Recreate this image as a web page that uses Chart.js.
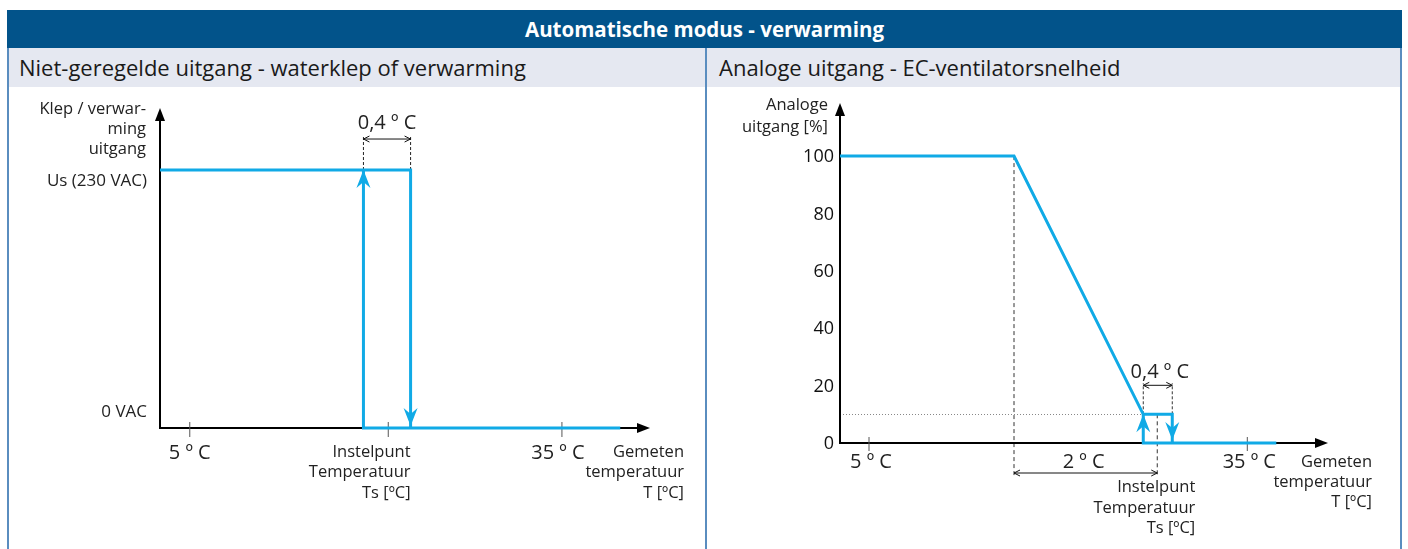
<!DOCTYPE html>
<html><head><meta charset="utf-8">
<script src="https://cdn.jsdelivr.net/npm/chart.js@4.4.0/dist/chart.umd.min.js"></script>
<style>
html,body{margin:0;padding:0}
body{width:1408px;height:549px;background:#fff;position:relative;overflow:hidden;font-family:"Open Sans",sans-serif}
#title{position:absolute;left:7px;top:10px;width:1395px;height:38px;background:#02538a;color:#fff;font-weight:bold;font-size:20.5px;line-height:38px;text-align:center}
.sub{position:absolute;top:48px;height:39px;background:#e5e8f1;color:#1a1a1a;font-size:22px;line-height:39px;padding-left:12px;box-sizing:border-box;white-space:nowrap}
.vline{position:absolute;top:48px;height:501px;width:2px;background:#5a8dbf}
canvas{position:absolute;top:87px}
</style></head>
<body>
<div id="title">Automatische modus - verwarming</div>
<div class="sub" style="left:7px;width:698px">Niet-geregelde uitgang - waterklep of verwarming</div>
<div class="sub" style="left:707px;width:695px">Analoge uitgang - EC-ventilatorsnelheid</div>
<div class="vline" style="left:7px"></div>
<div class="vline" style="left:705px"></div>
<div class="vline" style="left:1400px"></div>
<canvas id="left" width="696" height="462" style="left:9px"></canvas>
<canvas id="right" width="693" height="462" style="left:707px"></canvas>
<script>
// ---------- DATA (schematic temperatures in °C, outputs in V / %) ----------
// Left: on/off output with hysteresis
const leftOffX = [2.6, 22.8, 22.8];     // high output until switch-off
const leftOffY = [230, 230, 0];
const leftOnX  = [19.0, 19.0, 39.7];    // switch-on branch and low output
const leftOnY  = [230, 0, 0];
const leftTickTemps = [5, 21, 35];
const leftTickLabels = ["5 º C", "", "35 º C"];
const leftSetpoint = 21;
const leftUs = 230;

// Right: analogue output (EC fan speed)
const rightMainX = [2.7, 16.5, 26.75, 29.05, 29.05];
const rightMainY = [100, 100, 10, 10, 0];
const rightLowX  = [26.75, 26.75, 37.3];
const rightLowY  = [10, 0, 0];
const rightYTicks = [0, 20, 40, 60, 80, 100];
const rightTickTemps = [5, 35];
const rightTickLabels = ["5 º C", "35 º C"];
const rightKnee = 16.5;
const rightSetpoint = 27.86;
const rightMinLevel = 10;

const BLUE = '#10aae6';
const TXT = '#222';
const LBL = 16.5;

function pts(xs, ys){ return xs.map((x,i)=>({x:x, y:ys[i]})); }

function line(ctx,x1,y1,x2,y2,color,w,dash){
  ctx.save(); ctx.beginPath(); ctx.strokeStyle=color; ctx.lineWidth=w; ctx.setLineDash(dash||[]);
  ctx.moveTo(x1,y1); ctx.lineTo(x2,y2); ctx.stroke(); ctx.restore();
}
function filledArrow(ctx,x,y,dir,len,half,color){
  ctx.save(); ctx.fillStyle=color; ctx.beginPath();
  if(dir==='up'){ ctx.moveTo(x,y); ctx.lineTo(x-half,y+len); ctx.lineTo(x+half,y+len); }
  else { ctx.moveTo(x,y); ctx.lineTo(x-len,y-half); ctx.lineTo(x-len,y+half); }
  ctx.closePath(); ctx.fill(); ctx.restore();
}
function stealth(ctx,x,y,dir,color){
  const s = dir==='up' ? 1 : -1;
  ctx.save(); ctx.fillStyle=color; ctx.beginPath();
  ctx.moveTo(x,y); ctx.lineTo(x-7,y+s*18); ctx.lineTo(x,y+s*12); ctx.lineTo(x+7,y+s*18);
  ctx.closePath(); ctx.fill(); ctx.restore();
}
function dim(ctx,x1,x2,y){
  ctx.save(); ctx.strokeStyle='#111'; ctx.lineWidth=1; ctx.beginPath();
  ctx.moveTo(x1,y); ctx.lineTo(x2,y);
  ctx.moveTo(x1+6,y-3); ctx.lineTo(x1,y); ctx.lineTo(x1+6,y+3);
  ctx.moveTo(x2-6,y-3); ctx.lineTo(x2,y); ctx.lineTo(x2-6,y+3);
  ctx.stroke(); ctx.restore();
}
function text(ctx,s,x,y,align,size,color){
  ctx.save(); ctx.font = size+'px "Open Sans", sans-serif'; ctx.fillStyle=color||TXT;
  ctx.textAlign=align; ctx.textBaseline='middle'; ctx.fillText(s,x,y); ctx.restore();
}

const leftAnnot = {
  id:'leftAnnot',
  beforeDatasetsDraw(chart){
    const {ctx, chartArea:a, scales:{x,y}} = chart;
    const ay = y.getPixelForValue(0);
    line(ctx,a.left,ay,a.right-10,ay,'#000',2);
    filledArrow(ctx,a.right,ay,'right',13,5,'#000');
    line(ctx,a.left,ay+1,a.left,a.top+10,'#000',2);
    filledArrow(ctx,a.left,a.top,'up',13,5,'#000');
    leftTickTemps.forEach((t,i)=>{
      const px = x.getPixelForValue(t);
      line(ctx,px,ay-6,px,ay+9,'#555',1);
      if(leftTickLabels[i]) text(ctx,leftTickLabels[i],px+(t===35?-4:0),ay+25,'center',20,TXT);
    });
    const xOn = x.getPixelForValue(leftOnX[0]), xOff = x.getPixelForValue(leftOffX[1]);
    const yUs = y.getPixelForValue(leftUs);
    line(ctx,xOn,yUs,xOn,yUs-33,'#222',1,[3,2]);
    line(ctx,xOff,yUs,xOff,yUs-33,'#222',1,[3,2]);
    dim(ctx,xOn,xOff,yUs-31);
    text(ctx,'0,4 º C',(xOn+xOff)/2,yUs-47,'center',20,TXT);
    text(ctx,'Klep / verwar-',a.left-14,a.top+1,'right',LBL,TXT);
    text(ctx,'ming',a.left-14,a.top+21,'right',LBL,TXT);
    text(ctx,'uitgang',a.left-14,a.top+41,'right',LBL,TXT);
    text(ctx,'Us (230 VAC)',a.left-13,yUs+11,'right',17,TXT);
    text(ctx,'0 VAC',a.left-13,ay-16,'right',17,TXT);
    const xs = xOff;
    text(ctx,'Instelpunt',xs,ay+24,'right',LBL,TXT);
    text(ctx,'Temperatuur',xs,ay+44,'right',LBL,TXT);
    text(ctx,'Ts [ºC]',xs,ay+65,'right',LBL,TXT);
    text(ctx,'Gemeten',a.right+34,ay+24,'right',LBL,TXT);
    text(ctx,'temperatuur',a.right+34,ay+44,'right',LBL,TXT);
    text(ctx,'T [ºC]',a.right+34,ay+65,'right',LBL,TXT);
  },
  afterDatasetsDraw(chart){
    const {ctx, scales:{x,y}} = chart;
    stealth(ctx,x.getPixelForValue(leftOnX[0]),y.getPixelForValue(leftUs),'up',BLUE);
    stealth(ctx,x.getPixelForValue(leftOffX[1]),y.getPixelForValue(0)-2,'down',BLUE);
  }
};

const rightAnnot = {
  id:'rightAnnot',
  beforeDatasetsDraw(chart){
    const {ctx, chartArea:a, scales:{x,y}} = chart;
    const ay = y.getPixelForValue(0);
    const yMin = y.getPixelForValue(rightMinLevel);
    const xKnee = x.getPixelForValue(rightKnee), xSet = x.getPixelForValue(rightSetpoint);
    const xOn = x.getPixelForValue(rightLowX[0]), xOff = x.getPixelForValue(rightMainX[3]);
    ctx.save(); ctx.fillStyle='#888';
    for(let px=a.left+3; px<xOn; px+=3) ctx.fillRect(px,Math.round(yMin),1,1);
    ctx.restore();
    line(ctx,xKnee,y.getPixelForValue(100),xKnee,ay+34,'#333',1,[4,3]);
    line(ctx,xSet,yMin,xSet,ay+34,'#333',1,[4,3]);
    line(ctx,xOn,yMin,xOn,yMin-31,'#333',1,[3,2]);
    line(ctx,xOff,yMin,xOff,yMin-31,'#333',1,[3,2]);
    dim(ctx,xOn,xOff,yMin-29);
    text(ctx,'0,4 º C',(xOn+xOff)/2+2,yMin-42,'center',20,TXT);
    dim(ctx,xKnee,xSet,ay+30);
    text(ctx,'2 º C',(xKnee+xSet)/2-2,ay+19,'center',20,TXT);
    line(ctx,a.left,ay,a.right-10,ay,'#000',2);
    filledArrow(ctx,a.right,ay,'right',13,5,'#000');
    line(ctx,a.left,ay+1,a.left,a.top+10,'#000',2);
    filledArrow(ctx,a.left,a.top,'up',13,5,'#000');
    rightTickTemps.forEach((t,i)=>{
      const px = x.getPixelForValue(t);
      line(ctx,px,ay-6,px,ay+8,'#555',1);
      text(ctx,rightTickLabels[i],px+2,ay+19,'center',20,TXT);
    });
    rightYTicks.forEach(v=>text(ctx,String(v),a.left-6,y.getPixelForValue(v)+1,'right',18,'#111'));
    text(ctx,'Analoge',a.left-12,a.top+2,'right',LBL,TXT);
    text(ctx,'uitgang [%]',a.left-12,a.top+24,'right',LBL,TXT);
    text(ctx,'Instelpunt',xSet+38,ay+44,'right',LBL,TXT);
    text(ctx,'Temperatuur',xSet+38,ay+65,'right',LBL,TXT);
    text(ctx,'Ts [ºC]',xSet+38,ay+85,'right',LBL,TXT);
    text(ctx,'Gemeten',a.right+44,ay+19,'right',LBL,TXT);
    text(ctx,'temperatuur',a.right+44,ay+39,'right',LBL,TXT);
    text(ctx,'T [ºC]',a.right+44,ay+59,'right',LBL,TXT);
  },
  afterDatasetsDraw(chart){
    const {ctx, scales:{x,y}} = chart;
    stealth(ctx,x.getPixelForValue(rightLowX[0]),y.getPixelForValue(rightMinLevel),'up',BLUE);
    stealth(ctx,x.getPixelForValue(rightMainX[3]),y.getPixelForValue(0)-3,'down',BLUE);
  }
};

function makeChart(id, datasets, xr, yr, pad, plugin){
  return new Chart(document.getElementById(id), {
    type:'scatter',
    data:{datasets: datasets.map(d=>({data:d, showLine:true, borderColor:BLUE, borderWidth:3, pointRadius:0, fill:false, tension:0, clip:false, borderJoinStyle:'miter'}))},
    options:{
      responsive:false, animation:false, events:[],
      layout:{padding:pad},
      plugins:{legend:{display:false}, tooltip:{enabled:false}},
      scales:{
        x:{type:'linear', min:xr[0], max:xr[1], display:false},
        y:{type:'linear', min:yr[0], max:yr[1], display:false}
      }
    },
    plugins:[plugin]
  });
}

makeChart('left', [pts(leftOffX,leftOffY), pts(leftOnX,leftOnY)], [2.6,42.1], [0,285.3],
  {left:151, top:21, right:55, bottom:121}, leftAnnot);
makeChart('right', [pts(rightMainX,rightMainY), pts(rightLowX,rightLowY)], [2.7,41.4], [0,118.5],
  {left:133, top:16, right:72, bottom:106}, rightAnnot);
</script>
</body></html>
